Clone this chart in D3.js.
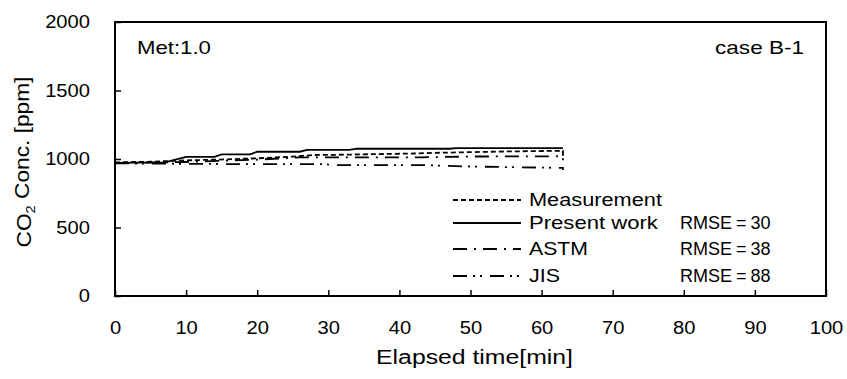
<!DOCTYPE html>
<html><head><meta charset="utf-8">
<script src="https://cdn.jsdelivr.net/npm/d3@7/dist/d3.min.js"></script>
<style>
body{margin:0;background:#fff;}
text{font-family:"Liberation Sans",Arial,sans-serif;fill:#000;}
</style></head>
<body><svg id="c" width="847" height="379"></svg>
<script>
// Data (time in min, CO2 in ppm)
const xTicks = [0,10,20,30,40,50,60,70,80,90,100];
const yTicks = [0,500,1000,1500,2000];

const measT = [0,5,10,14,20,25,28,33,37,42,45,50,55,63,63];
const measV = [975,980,990,995,1005,1018,1029,1032,1036,1040,1045,1050,1055,1060,1000];

const presT = [0,7,10,14,15,19,20,26,27,33,34,47,48,63];
const presV = [972,975,1015,1015,1034,1034,1053,1053,1066,1066,1075,1075,1080,1080];

const astmT = [0,10,20,26,43,50,63,63];
const astmV = [970,978,995,1012,1012,1018,1020,990];

const jisT = [0,10,20,29,31,43,50,63,63];
const jisV = [968,965,962,963,956,956,945,935,920];

const seriesNames = ["Measurement","Present work","ASTM","JIS"];
const rmseLabels = ["RMSE = 30","RMSE = 38","RMSE = 88"];

const svg = d3.select("#c");
const L=115, R=826, T=22, B=296;
const x = d3.scaleLinear().domain([0,100]).range([L,R]);
const y = d3.scaleLinear().domain([0,2000]).range([B,T]);
const SX = 1.09;

// horizontally stretched text, anchored at (px,py)
function stext(px, py, str, size, targetW, anchor){
  const t = svg.append("text").attr("dy","0.35em").style("font-size",size+"px")
    .attr("text-anchor",anchor||"start").text(str);
  const w = t.node().getComputedTextLength();
  const s = targetW ? targetW/w : 1;
  t.attr("transform",`translate(${px},${py}) scale(${s},1)`);
  return t;
}

// frame
svg.append("rect").attr("x",L).attr("y",T).attr("width",R-L).attr("height",B-T)
  .attr("fill","none").attr("stroke","#000").attr("stroke-width",2);

// x axis
const xa = svg.append("g").attr("transform",`translate(0,${B})`)
  .call(d3.axisBottom(x).tickValues(xTicks).tickSize(-6).tickPadding(26).tickFormat(d3.format("d")));
xa.select(".domain").remove();
xa.selectAll("line").attr("stroke-width",1.5);
xa.selectAll("text").style("font-size","18.5px").attr("dy","0.35em").attr("y",32)
  .attr("transform",`scale(${SX},1)`);

// y axis
const ya = svg.append("g").attr("transform",`translate(${L},0)`)
  .call(d3.axisLeft(y).tickValues(yTicks).tickSize(-6).tickPadding(25).tickFormat(d3.format("d")));
ya.select(".domain").remove();
ya.selectAll("line").attr("stroke-width",1.5);
ya.selectAll("text").style("font-size","18.5px").attr("x",-25/SX).attr("transform",`scale(${SX},1)`);

// lines
const styles = [
  {t:measT,v:measV,dash:"5,3"},
  {t:presT,v:presV,dash:null},
  {t:astmT,v:astmV,dash:"14,7,2,7"},
  {t:jisT,v:jisV,dash:"14,6,2,5,2,8"}
];
const line = d3.line().x(d=>x(d[0])).y(d=>y(d[1]));
styles.forEach(s=>{
  svg.append("path").datum(s.t.map((t,i)=>[t,s.v[i]]))
    .attr("d",line).attr("fill","none").attr("stroke","#000").attr("stroke-width",1.8)
    .attr("stroke-dasharray",s.dash);
});

// annotations
stext(137,48,"Met:1.0",17.5,74);
stext(804,48,"case B-1",17.5,89,"end");

// legend
const legY = [200,223,249,276];
const legW = [133,129,59,31];
seriesNames.forEach((n,i)=>{
  svg.append("line").attr("x1",453).attr("x2",521).attr("y1",legY[i]).attr("y2",legY[i])
    .attr("stroke","#000").attr("stroke-width",1.8).attr("stroke-dasharray",styles[i].dash);
  stext(529,legY[i],n,17.5,legW[i]);
});
rmseLabels.forEach((r,i)=>{
  stext(680,legY[i+1],r,18,null).style("word-spacing","-1px");
});

// axis titles
stext((L+R)/2+4,357,"Elapsed time[min]",20,197,"middle");
const yt = svg.append("text").attr("text-anchor","middle")
  .attr("dy","0.35em").style("font-size","20px");
yt.append("tspan").text("CO");
yt.append("tspan").attr("dy","0.3em").style("font-size","13px").text("2");
yt.append("tspan").attr("dy","-0.3em").text(" Conc. [ppm]");
const yw = yt.node().getComputedTextLength();
yt.attr("transform",`translate(24,162) rotate(-90) scale(${171/yw},1)`);
</script></body></html>
